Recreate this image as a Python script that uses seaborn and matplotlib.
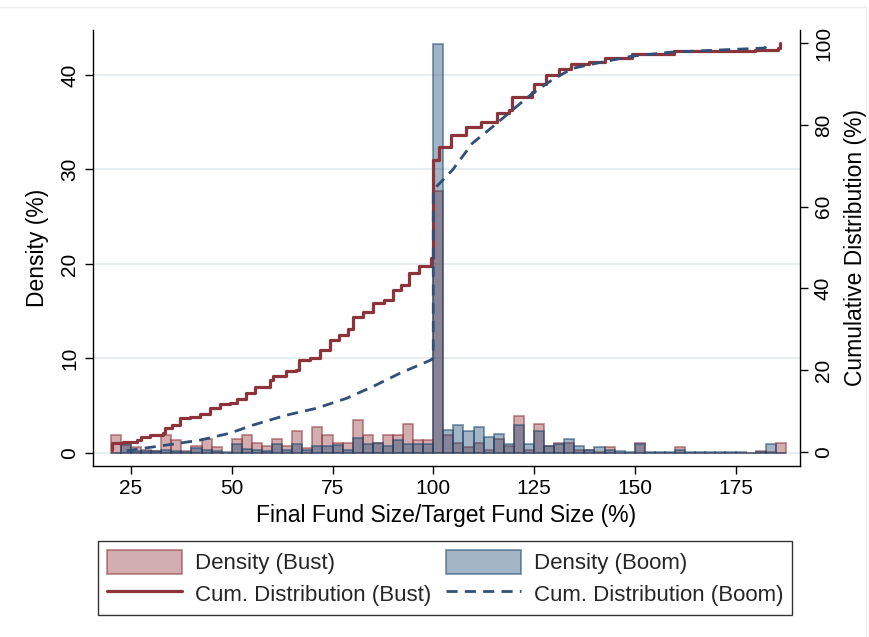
import numpy as np
import pandas as pd
import matplotlib
matplotlib.use("Agg")
import matplotlib.pyplot as plt
import seaborn as sns
from matplotlib.patches import Patch
from matplotlib.lines import Line2D
from matplotlib.colors import to_rgba

# --- histogram bins (Final / Target fund size, %) ---
bin_edges = [20.0 + 2.5 * i for i in range(68)]   # 20 ... 187.5
bin_left = np.array(bin_edges[:-1])

# share of funds in each 2.5-point bin (%)
bust_density = [1.94, 0.80, 0.60, 0.35, 0.25, 1.94, 1.40, 0.25, 0.70, 1.50,
                0.60, 0.00, 1.50, 1.94, 1.06, 0.70, 1.50, 0.70, 2.30, 0.50,
                2.70, 1.94, 1.06, 1.06, 3.46, 1.94, 1.06, 1.87, 1.87, 3.10,
                1.34, 1.34, 27.7, 1.87, 1.06, 0.63, 1.06, 0.30, 1.50, 0.70,
                3.95, 0.30, 3.10, 0.70, 1.06, 1.10, 0.30, 0.30, 0.10, 0.63,
                0.00, 0.00, 1.06, 0.00, 0.00, 0.00, 0.63, 0.00, 0.00, 0.00,
                0.00, 0.00, 0.00, 0.00, 0.25, 0.05, 1.06]
boom_density = [0.00, 0.90, 0.25, 0.20, 0.20, 0.35, 0.25, 0.15, 0.50, 0.35,
                0.25, 0.10, 0.95, 0.45, 0.35, 0.25, 0.90, 0.35, 0.95, 0.35,
                0.70, 0.70, 0.80, 0.35, 1.60, 0.90, 1.06, 0.70, 1.40, 0.90,
                0.90, 0.90, 43.3, 2.47, 3.00, 2.30, 2.70, 1.66, 2.00, 0.95,
                3.00, 0.90, 2.36, 0.70, 0.95, 1.50, 0.70, 0.30, 0.60, 0.35,
                0.25, 0.10, 0.95, 0.05, 0.15, 0.05, 0.30, 0.10, 0.15, 0.05,
                0.05, 0.05, 0.05, 0.00, 0.05, 0.95, 0.00]

# --- empirical cumulative distributions (%) ---
bust_cdf_x = [20.2, 20.2, 23.1, 26.4, 27.6, 29.7, 33.0, 33.4, 35.1, 37.1,
              39.6, 42.1, 44.6, 47.0, 49.5, 51.2, 53.6, 55.7, 59.4, 60.2,
              63.5, 66.0, 66.8, 69.3, 71.8, 74.3, 76.7, 78.8, 80.0, 82.5,
              85.0, 87.9, 89.9, 92.0, 94.0, 96.5, 99.4, 100.0, 101.5, 104.4,
              108.1, 111.8, 115.9, 118.8, 119.6, 124.6, 125.0, 127.9, 131.2,
              134.1, 138.6, 142.7, 149.3, 159.7, 179.9, 185.6, 186.0]
bust_cdf_y = [0.5, 2.1, 2.5, 2.9, 3.7, 4.1, 4.6, 5.8, 6.6, 8.2,
              8.6, 9.3, 10.7, 11.7, 11.9, 12.9, 14.5, 16.0, 17.6, 18.6,
              19.9, 20.0, 22.5, 22.9, 24.9, 27.4, 28.6, 30.0, 32.9, 34.3,
              36.5, 37.2, 39.6, 40.8, 43.7, 45.5, 47.4, 71.4, 74.6, 77.5,
              79.5, 80.8, 82.8, 83.6, 86.9, 88.1, 90.1, 92.2, 93.6,
              94.8, 95.4, 96.3, 97.3, 98.1, 98.3, 98.7, 100.0]

boom_cdf_x = [23.9, 28.0, 33.8, 42.1, 49.5, 55.3, 63.5, 71.0, 78.4, 85.0,
              91.6, 99.4, 100.0, 100.0, 104.8, 109.7, 114.7, 119.6, 124.6,
              129.5, 134.5, 141.1, 149.3, 159.2, 170.8, 182.3, 183.0]
boom_cdf_y = [0.3, 0.9, 1.7, 2.9, 4.6, 6.6, 9.0, 10.7, 13.1, 16.0,
              19.2, 22.5, 23.0, 64.1, 69.0, 75.5, 79.5, 83.6, 87.7,
              91.0, 93.8, 95.2, 96.8, 97.8, 98.3, 98.8, 100.0]

x_ticks = [25, 50, 75, 100, 125, 150, 175]
left_ticks = [0, 10, 20, 30, 40]
right_ticks = [0, 20, 40, 60, 80, 100]

# --- styling ---
sns.set_theme(style="white")
plt.rcParams["font.family"] = ["Liberation Sans", "DejaVu Sans"]

MAROON = "#90353b"
NAVY = "#1a476f"
BUST_LINE = "#8c3439"
BOOM_LINE = "#2e5079"
GRID = "#e6edf0"
BOOM_DASH = (0, (4.0, 2.6))

bins_df = pd.DataFrame({
    "center": np.tile(bin_left + 1.25, 2),
    "share": bust_density + boom_density,
    "group": ["Bust"] * len(bin_left) + ["Boom"] * len(bin_left),
})

fig = plt.figure(figsize=(8.7, 6.37), dpi=100)
ax = fig.add_axes([93 / 870, 1 - 466 / 637, (800 - 93) / 870, (466 - 30) / 637])

for g, col in [("Bust", MAROON), ("Boom", NAVY)]:
    before = len(ax.patches)
    sub = bins_df[bins_df["group"] == g].reset_index(drop=True)
    sns.histplot(data=sub, x="center", weights="share", bins=bin_edges,
                 stat="count", ax=ax, color=col, element="bars")
    for p in ax.patches[before:]:
        p.set_alpha(None)
        p.set_facecolor(to_rgba(col, 0.40))
        p.set_edgecolor(to_rgba(col, 0.55))
        p.set_linewidth(1.3)
        p.set_zorder(2)

ax.set_xlim(15.57, 191.0)
ax.set_ylim(-1.38, 44.76)
ax.set_xticks(x_ticks)
ax.set_yticks(left_ticks)
ax.yaxis.grid(True, color=GRID, linewidth=1.4, zorder=0)
ax.set_axisbelow(True)
ax.set_xlabel("Final Fund Size/Target Fund Size (%)", fontsize=16.5, color="black", labelpad=5)
ax.set_ylabel("Density (%)", fontsize=16.5, color="black", labelpad=8)
ax.tick_params(axis="x", labelsize=15, length=6, width=1, direction="out", colors="black", pad=3, bottom=True)
ax.tick_params(axis="y", labelsize=15, length=6, width=1, direction="out", colors="black", pad=4, left=True)
for lab in ax.get_yticklabels():
    lab.set_rotation(90)
    lab.set_va("center")
for s in ["top", "right"]:
    ax.spines[s].set_visible(False)
for s in ["left", "bottom"]:
    ax.spines[s].set_color("black")
    ax.spines[s].set_linewidth(1.0)

ax2 = ax.twinx()
bust_df = pd.DataFrame({"x": bust_cdf_x, "y": bust_cdf_y})
boom_df = pd.DataFrame({"x": boom_cdf_x, "y": boom_cdf_y})
sns.lineplot(data=bust_df, x="x", y="y", ax=ax2, estimator=None, sort=False,
             drawstyle="steps-post", color=BUST_LINE, linewidth=2.3)
sns.lineplot(data=boom_df, x="x", y="y", ax=ax2, estimator=None, sort=False,
             color=BOOM_LINE, linewidth=2.0, linestyle=BOOM_DASH)
ax2.set_ylim(-3.42, 103.2)
ax2.set_yticks(right_ticks)
ax2.set_xlabel("")
ax2.set_ylabel("Cumulative Distribution (%)", fontsize=16.5, color="black", labelpad=8)
ax2.tick_params(axis="y", labelsize=15, length=6, width=1, direction="out", colors="black", pad=4, right=True)
for lab in ax2.get_yticklabels():
    lab.set_rotation(90)
    lab.set_va("center")
for s in ["top", "left", "bottom"]:
    ax2.spines[s].set_visible(False)
ax2.spines["right"].set_color("black")
ax2.spines["right"].set_linewidth(1.0)
ax2.grid(False)

handles = [
    Patch(facecolor=to_rgba(MAROON, 0.40), edgecolor=to_rgba(MAROON, 0.55), linewidth=1.3),
    Line2D([], [], color=BUST_LINE, linewidth=2.3),
    Patch(facecolor=to_rgba(NAVY, 0.40), edgecolor=to_rgba(NAVY, 0.55), linewidth=1.3),
    Line2D([], [], color=BOOM_LINE, linewidth=2.0, linestyle=BOOM_DASH),
]
labels = ["Density (Bust)", "Cum. Distribution (Bust)",
          "Density (Boom)", "Cum. Distribution (Boom)"]
leg = fig.legend(handles, labels, ncol=2, loc="upper left",
                 bbox_to_anchor=(98 / 870, 1 - 541 / 637, (792 - 98) / 870, 0.0),
                 mode="expand", fontsize=16, frameon=True, fancybox=False,
                 edgecolor="black", handlelength=3.4, handleheight=1.3,
                 handletextpad=0.55, labelspacing=0.3, borderpad=0.4,
                 borderaxespad=0.0, columnspacing=1.0)
leg.get_frame().set_linewidth(1.0)

# light outline of the graph region
fig.add_artist(Line2D([0, 866 / 870], [1 - 7 / 637, 1 - 7 / 637],
                      transform=fig.transFigure, color="#ececec", linewidth=1))
fig.add_artist(Line2D([866 / 870, 866 / 870], [0, 1 - 7 / 637],
                      transform=fig.transFigure, color="#ececec", linewidth=1))

fig.savefig("out.png", dpi=100, facecolor="white")
